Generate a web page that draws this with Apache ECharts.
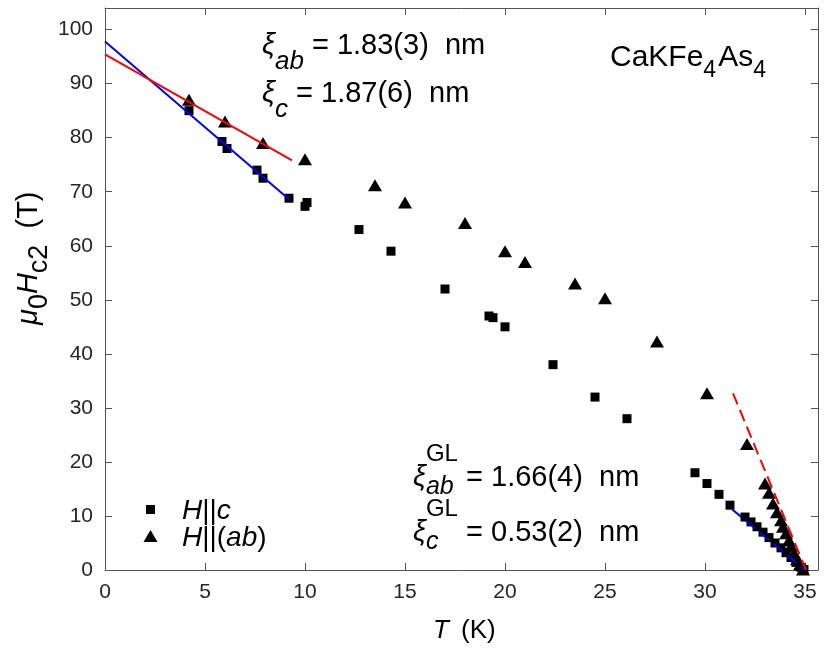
<!DOCTYPE html>
<html>
<head>
<meta charset="utf-8">
<script src="https://cdn.jsdelivr.net/npm/echarts@6/dist/echarts.min.js"></script>
<style>html,body{margin:0;padding:0;background:#fff}#c{width:830px;height:652px}</style>
</head>
<body>
<div id="c"></div>
<script>
// ---- data ----
const T_c = [4.2, 5.85, 6.1, 7.6, 7.9, 9.2, 10.0, 10.1, 12.7, 14.3, 17.0, 19.2, 19.4, 20.0, 22.4, 24.5, 26.1, 29.5, 30.1, 30.7, 31.25, 32.0, 32.3, 32.6, 32.9, 33.2, 33.5, 33.8, 34.05, 34.3, 34.55, 34.8, 34.95];
const H_c = [85.0, 79.3, 78.0, 74.0, 72.5, 68.8, 67.3, 68.0, 63.0, 59.0, 52.0, 47.0, 46.7, 45.0, 38.0, 32.0, 28.0, 18.0, 16.0, 14.0, 12.0, 9.8, 8.9, 8.0, 7.0, 6.0, 5.0, 4.1, 3.2, 2.3, 1.4, 0.5, 0.1];
const T_ab = [4.2, 6.0, 7.9, 10.0, 13.5, 15.0, 18.0, 20.0, 21.0, 23.5, 25.0, 27.6, 30.1, 32.1, 33.0, 33.2, 33.4, 33.6, 33.8, 33.9, 34.05, 34.2, 34.3, 34.45, 34.6, 34.75, 34.9];
const H_ab = [87.0, 83.0, 79.0, 76.0, 71.2, 68.0, 64.2, 59.0, 57.0, 53.0, 50.3, 42.3, 32.7, 23.3, 16.0, 14.3, 12.3, 10.7, 9.2, 8.0, 6.8, 5.5, 4.5, 3.2, 2.0, 1.0, 0.1];
// linear fits (end points)
const fitLowC_T = [0, 9.2],   fitLowC_H = [97.8, 68.6];
const fitLowAb_T = [0, 9.35], fitLowAb_H = [95.4, 75.8];
const fitGLc_T = [31.35, 35.0], fitGLc_H = [11.25, 0];
const fitGLab_T = [31.4, 35.05], fitGLab_H = [32.7, 0];
const xTicks = [0, 5, 10, 15, 20, 25, 30, 35];
const yTicks = [0, 10, 20, 30, 40, 50, 60, 70, 80, 90, 100];

const FF = '"Liberation Sans", Arial, Helvetica, sans-serif';
const zip = (a, b) => a.map((v, i) => [v, b[i]]);

const mctx = document.createElement('canvas').getContext('2d');
function tw(t, size, it) { mctx.font = (it ? 'italic ' : '') + size + 'px "Liberation Sans"'; return mctx.measureText(t).width; }
function rich(segs, x0, base) {
  let x = x0, pend = 0; const out = [];
  for (const s of segs) {
    const size = s.size, wdt = tw(s.t, size, s.i);
    if (s.gap) x += s.gap;
    out.push({ type: 'text', x: x, y: base + (s.dy || 0) - 0.31 * size, silent: true,
      style: { text: s.t, fontSize: size, fontFamily: FF, fontStyle: s.i ? 'italic' : 'normal', fill: '#000', align: 'left', verticalAlign: 'middle' } });
    if (s.stack) { pend = wdt; } else { x += Math.max(wdt, pend); pend = 0; }
  }
  return out;
}

const chart = echarts.init(document.getElementById('c'), null, { renderer: 'canvas' });
const axisCol = '#555';
const baseX = { type: 'value', min: 0, max: 35.65, splitLine: { show: false },
  axisLine: { show: true, onZero: false, lineStyle: { color: axisCol, width: 1 } } };
const baseY = { type: 'value', min: 0, max: 104, splitLine: { show: false },
  axisLine: { show: true, onZero: false, lineStyle: { color: axisCol, width: 1 } } };

const S = 29;
const graphics = [].concat(
  rich([{ t: 'ξ', size: S, i: true }, { t: 'ab', size: 26, i: true, dy: 15 }, { t: ' = 1.83(3)  nm', size: S }], 262, 55),
  rich([{ t: 'ξ', size: S, i: true }, { t: 'c', size: 26, i: true, dy: 15 }, { t: ' = 1.87(6)  nm', size: S }], 262, 103),
  rich([{ t: 'CaKFe', size: 30 }, { t: '4', size: 23, dy: 11 }, { t: 'As', size: 30, gap: 2 }, { t: '4', size: 23, dy: 11 }], 610, 67),
  rich([{ t: 'ξ', size: S, i: true }, { t: 'GL', size: 24, dy: -25, stack: true }, { t: 'ab', size: 25, i: true, dy: 8 }, { t: ' = 1.66(4)  nm', size: S }], 413, 487),
  rich([{ t: 'ξ', size: S, i: true }, { t: 'GL', size: 24, dy: -25, stack: true }, { t: 'c', size: 25, i: true, dy: 8 }, { t: ' = 0.53(2)  nm', size: S }], 413, 542),
  // legend
  [{ type: 'rect', shape: { x: 146, y: 505, width: 9, height: 9 }, style: { fill: '#000' }, silent: true },
   { type: 'polygon', shape: { points: [[150.5, 530], [157.5, 542], [143.5, 542]] }, style: { fill: '#000' }, silent: true }],
  rich([{ t: 'H', size: 28, i: true }, { t: '||', size: 28 }, { t: 'c', size: 28, i: true }], 182, 520),
  rich([{ t: 'H', size: 28, i: true }, { t: '||(', size: 28 }, { t: 'ab', size: 28, i: true }, { t: ')', size: 28 }], 182, 547),
  // x axis name
  rich([{ t: 'T', size: 26, i: true }, { t: ' (K)', size: 26, gap: 5 }], 433, 639),
  // y axis name (rotated)
  [{ type: 'group', x: 38, y: 325, rotation: Math.PI / 2, silent: true,
     children: rich([{ t: 'μ', size: 29, i: true }, { t: '0', size: 27, dy: 10 }, { t: 'H', size: 29, i: true }, { t: 'c2', size: 27, dy: 10 }, { t: '  (T)', size: 29 }], 0, 0) }]
);

const lineS = (name, xs, ys, color, dashed) => ({
  name, type: 'line', data: zip(xs, ys), showSymbol: false, symbol: 'none', z: 5, silent: true,
  lineStyle: { color, width: 2, type: dashed ? [12, 6] : 'solid' }, xAxisIndex: 0, yAxisIndex: 0, animation: false
});

chart.setOption({
  animation: false,
  backgroundColor: '#fff',
  grid: { left: 105, right: 12, top: 8, bottom: 82, containLabel: false },
  xAxis: [
    Object.assign({}, baseX, { position: 'bottom',
      axisTick: { show: true, inside: true, length: 7, lineStyle: { color: axisCol }, customValues: xTicks },
      axisLabel: { show: true, margin: 12, fontSize: 21, color: '#262626', fontFamily: FF, customValues: xTicks } }),
    Object.assign({}, baseX, { position: 'top',
      axisTick: { show: true, inside: true, length: 7, lineStyle: { color: axisCol }, customValues: xTicks },
      axisLabel: { show: false } })
  ],
  yAxis: [
    Object.assign({}, baseY, { position: 'left',
      axisTick: { show: true, inside: true, length: 7, lineStyle: { color: axisCol }, customValues: yTicks },
      axisLabel: { show: true, margin: 12, fontSize: 21, color: '#262626', fontFamily: FF, customValues: yTicks } }),
    Object.assign({}, baseY, { position: 'right',
      axisTick: { show: true, inside: true, length: 7, lineStyle: { color: axisCol }, customValues: yTicks },
      axisLabel: { show: false } })
  ],
  series: [
    { name: 'H||c', type: 'scatter', data: zip(T_c, H_c), symbol: 'rect', symbolSize: 9, z: 3,
      itemStyle: { color: '#000', opacity: 1 }, xAxisIndex: 0, yAxisIndex: 0 },
    { name: 'H||(ab)', type: 'scatter', data: zip(T_ab, H_ab), symbol: 'triangle', symbolSize: [14, 12], z: 3,
      itemStyle: { color: '#000', opacity: 1 }, xAxisIndex: 0, yAxisIndex: 0 },
    lineS('fitLowC', fitLowC_T, fitLowC_H, '#0000ff', false),
    lineS('fitLowAb', fitLowAb_T, fitLowAb_H, '#ff0000', false),
    lineS('fitGLc', fitGLc_T, fitGLc_H, '#0000ff', true),
    lineS('fitGLab', fitGLab_T, fitGLab_H, '#ff0000', true)
  ],
  graphic: graphics
});
</script>
</body>
</html>
